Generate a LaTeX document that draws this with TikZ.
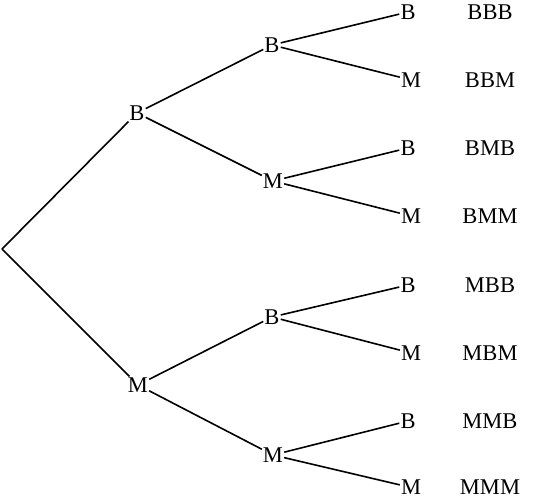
\documentclass[tikz,border=0pt]{standalone}
\usepackage{fontspec}
\setmainfont{Liberation Serif}
\begin{document}
\begin{tikzpicture}[x=1pt,y=-1pt,
  lt/.style={font=\fontsize{22.5}{22.5}\selectfont, inner sep=1pt},
  br/.style={line width=1.6pt, black}]
\useasboundingbox (0,0) rectangle (533,499);
\coordinate (r) at (2,249);
\node[lt] (b1) at (137,113) {B};
\node[lt] (m1) at (138,385) {M};
\node[lt] (bb) at (272,45) {B};
\node[lt] (bm) at (273,181) {M};
\node[lt] (mb) at (272,317) {B};
\node[lt] (mm) at (273,455) {M};
\node[lt] (l1) at (408,12) {B};
\node[lt] (l2) at (411,80) {M};
\node[lt] (l3) at (408,148) {B};
\node[lt] (l4) at (411,216) {M};
\node[lt] (l5) at (408,285) {B};
\node[lt] (l6) at (411,353) {M};
\node[lt] (l7) at (408,421) {B};
\node[lt] (l8) at (411,487.5) {M};
\node[lt] (t1) at (490,12) {BBB};
\node[lt] (t2) at (490,80) {BBM};
\node[lt] (t3) at (490,148) {BMB};
\node[lt] (t4) at (490,216) {BMM};
\node[lt] (t5) at (490,285) {MBB};
\node[lt] (t6) at (490,353) {MBM};
\node[lt] (t7) at (490,421) {MMB};
\node[lt] (t8) at (490,487.5) {MMM};
\draw[br] (r) -- (b1);
\draw[br] (r) -- (m1);
\draw[br] (b1) -- (bb);
\draw[br] (b1) -- (bm);
\draw[br] (m1) -- (mb);
\draw[br] (m1) -- (mm);
\draw[br] (bb) -- (l1);
\draw[br] (bb) -- (l2);
\draw[br] (bm) -- (l3);
\draw[br] (bm) -- (l4);
\draw[br] (mb) -- (l5);
\draw[br] (mb) -- (l6);
\draw[br] (mm) -- (l7);
\draw[br] (mm) -- (l8);
\end{tikzpicture}
\end{document}
